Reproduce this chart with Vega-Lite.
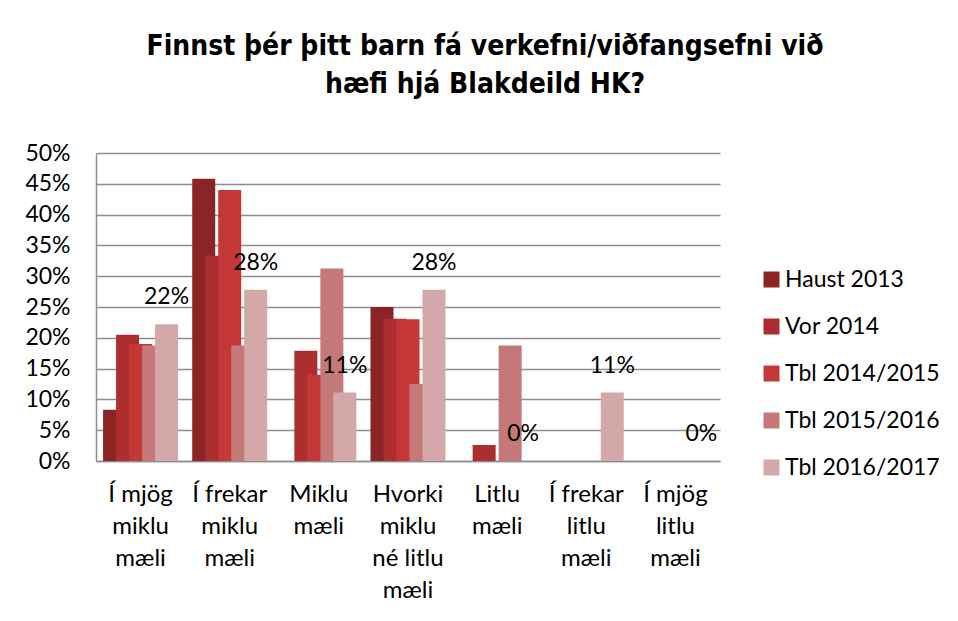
{
  "$schema": "https://vega.github.io/schema/vega-lite/v6.json",
  "width": 624,
  "height": 308,
  "autosize": {"type": "none"},
  "padding": {"left": 96, "top": 153, "right": 238, "bottom": 160},
  "background": "white",
  "config": {
    "view": {"stroke": null},
    "font": "Lato",
    "text": {"font": "Lato"}
  },
  "title": {
    "text": ["Finnst þér þitt barn fá verkefni/viðfangsefni við", "hæfi hjá Blakdeild HK?"],
    "font": "DejaVu Sans Condensed",
    "fontWeight": "bold",
    "fontSize": 28,
    "lineHeight": 38,
    "color": "#000000",
    "anchor": "middle",
    "frame": "group",
    "dx": 77,
    "offset": 43
  },
  "data": {
    "values": [
      {"category": "Í mjög miklu mæli", "series": "Haust 2013", "value": 0.083},
      {"category": "Í frekar miklu mæli", "series": "Haust 2013", "value": 0.458},
      {"category": "Miklu mæli", "series": "Haust 2013", "value": 0},
      {"category": "Hvorki miklu né litlu mæli", "series": "Haust 2013", "value": 0.25},
      {"category": "Litlu mæli", "series": "Haust 2013", "value": 0},
      {"category": "Í frekar litlu mæli", "series": "Haust 2013", "value": 0},
      {"category": "Í mjög litlu mæli", "series": "Haust 2013", "value": 0},
      {"category": "Í mjög miklu mæli", "series": "Vor 2014", "value": 0.205},
      {"category": "Í frekar miklu mæli", "series": "Vor 2014", "value": 0.333},
      {"category": "Miklu mæli", "series": "Vor 2014", "value": 0.179},
      {"category": "Hvorki miklu né litlu mæli", "series": "Vor 2014", "value": 0.231},
      {"category": "Litlu mæli", "series": "Vor 2014", "value": 0.026},
      {"category": "Í frekar litlu mæli", "series": "Vor 2014", "value": 0},
      {"category": "Í mjög litlu mæli", "series": "Vor 2014", "value": 0},
      {"category": "Í mjög miklu mæli", "series": "Tbl 2014/2015", "value": 0.19},
      {"category": "Í frekar miklu mæli", "series": "Tbl 2014/2015", "value": 0.44},
      {"category": "Miklu mæli", "series": "Tbl 2014/2015", "value": 0.14},
      {"category": "Hvorki miklu né litlu mæli", "series": "Tbl 2014/2015", "value": 0.23},
      {"category": "Litlu mæli", "series": "Tbl 2014/2015", "value": 0},
      {"category": "Í frekar litlu mæli", "series": "Tbl 2014/2015", "value": 0},
      {"category": "Í mjög litlu mæli", "series": "Tbl 2014/2015", "value": 0},
      {"category": "Í mjög miklu mæli", "series": "Tbl 2015/2016", "value": 0.1875},
      {"category": "Í frekar miklu mæli", "series": "Tbl 2015/2016", "value": 0.1875},
      {"category": "Miklu mæli", "series": "Tbl 2015/2016", "value": 0.3125},
      {"category": "Hvorki miklu né litlu mæli", "series": "Tbl 2015/2016", "value": 0.125},
      {"category": "Litlu mæli", "series": "Tbl 2015/2016", "value": 0.1875},
      {"category": "Í frekar litlu mæli", "series": "Tbl 2015/2016", "value": 0},
      {"category": "Í mjög litlu mæli", "series": "Tbl 2015/2016", "value": 0},
      {"category": "Í mjög miklu mæli", "series": "Tbl 2016/2017", "value": 0.222},
      {"category": "Í frekar miklu mæli", "series": "Tbl 2016/2017", "value": 0.278},
      {"category": "Miklu mæli", "series": "Tbl 2016/2017", "value": 0.111},
      {"category": "Hvorki miklu né litlu mæli", "series": "Tbl 2016/2017", "value": 0.278},
      {"category": "Litlu mæli", "series": "Tbl 2016/2017", "value": 0},
      {"category": "Í frekar litlu mæli", "series": "Tbl 2016/2017", "value": 0.111},
      {"category": "Í mjög litlu mæli", "series": "Tbl 2016/2017", "value": 0}
    ]
  },
  "encoding": {
    "x": {
      "field": "category",
      "type": "nominal",
      "sort": null,
      "scale": {
        "domain": ["Í mjög miklu mæli", "Í frekar miklu mæli", "Miklu mæli", "Hvorki miklu né litlu mæli", "Litlu mæli", "Í frekar litlu mæli", "Í mjög litlu mæli"],
        "paddingInner": 0,
        "paddingOuter": 0
      },
      "axis": {
        "title": null,
        "labelAngle": 0,
        "ticks": false,
        "domainColor": "#8e8e8e",
        "domainWidth": 1.5,
        "labelFont": "Lato",
        "labelFontSize": 24,
        "labelColor": "#000000",
        "labelBaseline": "top",
        "labelPadding": 21,
        "labelLineHeight": 32,
        "labelLimit": 0,
        "labelExpr": "datum.value == 'Í mjög miklu mæli' ? ['Í mjög','miklu','mæli'] : datum.value == 'Í frekar miklu mæli' ? ['Í frekar','miklu','mæli'] : datum.value == 'Miklu mæli' ? ['Miklu','mæli'] : datum.value == 'Hvorki miklu né litlu mæli' ? ['Hvorki','miklu','né litlu','mæli'] : datum.value == 'Litlu mæli' ? ['Litlu','mæli'] : datum.value == 'Í frekar litlu mæli' ? ['Í frekar','litlu','mæli'] : ['Í mjög','litlu','mæli']"
      }
    },
    "xOffset": {
      "field": "series",
      "type": "nominal",
      "scale": {
        "domain": ["Haust 2013", "Vor 2014", "Tbl 2014/2015", "Tbl 2015/2016", "Tbl 2016/2017"],
        "paddingInner": 0,
        "paddingOuter": 0.93
      }
    },
    "y": {
      "field": "value",
      "type": "quantitative",
      "scale": {"domain": [0, 0.5], "nice": false},
      "axis": {
        "title": null,
        "values": [0, 0.05, 0.1, 0.15, 0.2, 0.25, 0.3, 0.35, 0.4, 0.45, 0.5],
        "format": ".0%",
        "ticks": false,
        "labelPadding": 26,
        "labelFont": "Lato",
        "labelFontSize": 23,
        "labelColor": "#000000",
        "domainColor": "#8e8e8e",
        "domainWidth": 1.5,
        "gridColor": "#8e8e8e",
        "gridWidth": 1.5
      }
    }
  },
  "layer": [
    {
      "mark": {"type": "bar", "width": 23},
      "encoding": {
        "color": {
          "field": "series",
          "type": "nominal",
          "scale": {
            "domain": ["Haust 2013", "Vor 2014", "Tbl 2014/2015", "Tbl 2015/2016", "Tbl 2016/2017"],
            "range": ["#8b2424", "#ac2e2e", "#c43838", "#c47878", "#d4a8a8"]
          },
          "legend": {
            "title": null,
            "orient": "none",
            "legendX": 664,
            "legendY": 115,
            "padding": 0,
            "symbolType": "square",
            "symbolSize": 256,
            "symbolStrokeWidth": 0,
            "labelFont": "Lato",
            "labelFontSize": 23,
            "labelColor": "#000000",
            "labelOffset": 2,
            "rowPadding": 23,
            "labelLimit": 0
          }
        }
      }
    },
    {
      "transform": [{"filter": "datum.series == 'Tbl 2016/2017'"}],
      "mark": {"type": "text", "dy": -27, "baseline": "middle", "align": "center", "font": "Lato", "fontSize": 23, "color": "#000000"},
      "encoding": {
        "text": {"field": "value", "type": "quantitative", "format": ".0%"}
      }
    }
  ]
}
